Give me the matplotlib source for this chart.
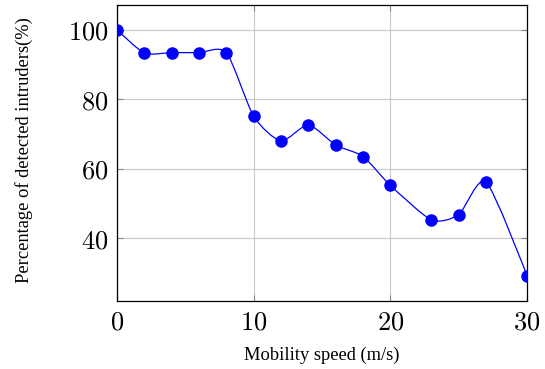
import matplotlib
matplotlib.use("Agg")
import matplotlib.pyplot as plt
from matplotlib.path import Path
from matplotlib.patches import PathPatch
import numpy as np

speed = [0, 2, 4, 6, 8, 10, 12, 14, 16, 18, 20, 23, 25, 27, 30]
detected = [100, 93.3, 93.4, 93.4, 93.4, 75.1, 68.0, 72.6, 66.8, 63.5, 55.2, 45.3, 46.8, 56.2, 29.2]
xticks = [0, 10, 20, 30]
yticks = [40, 60, 80, 100]

plt.rcParams['mathtext.fontset'] = 'cm'
fig = plt.figure(figsize=(5.45, 3.69), dpi=100)
ax = fig.add_axes([0.2147, 0.184, 0.7523, 0.8024])

# smooth curve (TikZ-like cardinal spline through the data points)
pts = np.column_stack([speed, detected]).astype(float)
k = 0.12
verts = [tuple(pts[0])]
codes = [Path.MOVETO]
n = len(pts)
for i in range(n - 1):
    p0 = pts[i - 1] if i > 0 else pts[i]
    p1 = pts[i]
    p2 = pts[i + 1]
    p3 = pts[i + 2] if i + 2 < n else pts[i + 1]
    c1 = p1 + k * (p2 - p0) if i > 0 else p1
    c2 = p2 - k * (p3 - p1) if i + 2 < n else p2
    verts += [tuple(c1), tuple(c2), tuple(p2)]
    codes += [Path.CURVE4] * 3
ax.add_patch(PathPatch(Path(verts, codes), facecolor='none', edgecolor='#0000ff', lw=0.9, zorder=3))
ax.plot(speed, detected, linestyle='none', marker='o', color='#0000ff', markersize=8, zorder=4)

ax.set_xlim(0, 30)
ax.set_ylim(21.9, 107.1)
ax.set_xticks(xticks)
ax.set_yticks(yticks)
ax.set_xticklabels([f'${v}$' for v in xticks], fontsize=19)
ax.set_yticklabels([f'${v}$' for v in yticks], fontsize=19)
ax.grid(True, color='#c8c8c8', lw=0.8)
ax.set_axisbelow(True)
ax.tick_params(direction='in', top=True, right=True, length=4, color='#888888', pad=6)
for s in ax.spines.values():
    s.set_linewidth(0.9)
ax.set_xlabel('Mobility speed (m/s)', fontfamily='Liberation Serif', fontsize=13.3)
ax.set_ylabel('Percentage of detected intruders(%)', fontfamily='Liberation Serif', fontsize=13.3)
ax.xaxis.set_label_coords(322 / 545, 1 - 355 / 369, transform=fig.transFigure)
ax.yaxis.set_label_coords(24 / 545, 1 - 150 / 369, transform=fig.transFigure)
ax.xaxis.label.set_va('center')
ax.yaxis.label.set_va('center')
fig.savefig('out.png', dpi=100)
